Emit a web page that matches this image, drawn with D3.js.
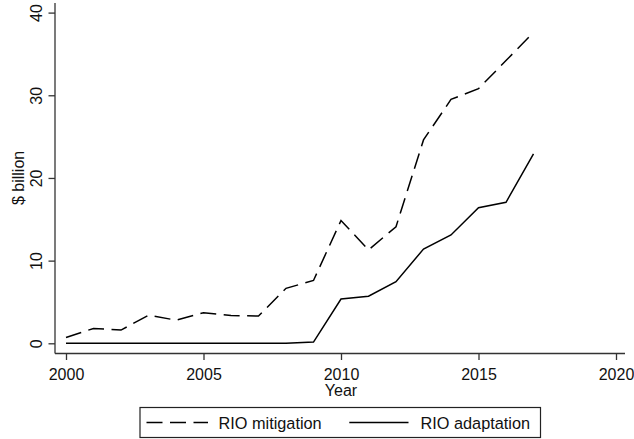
<!DOCTYPE html>
<html>
<head>
<meta charset="utf-8">
<script src="https://cdn.jsdelivr.net/npm/d3@7"></script>
<style>
  html, body { margin: 0; padding: 0; background: #fff; }
  svg { display: block; }
  text { font-family: "Liberation Sans", Arial, sans-serif; fill: #111; }
</style>
</head>
<body>
<script>
// Annual RIO climate finance, $ billion
const years = [2000, 2001, 2002, 2003, 2004, 2005, 2006, 2007, 2008,
               2009, 2010, 2011, 2012, 2013, 2014, 2015, 2016, 2017];
const mitigation = [0.7, 1.8, 1.6, 3.4, 2.8, 3.7, 3.35, 3.3, 6.65,
                    7.6, 14.85, 11.3, 14.1, 24.6, 29.5, 30.8, 34.2, 37.6];
const adaptation = [0, 0, 0, 0, 0, 0, 0, 0, 0,
                    0.15, 5.35, 5.7, 7.45, 11.4, 13.1, 16.4, 17.05, 22.9];
const xTicks = [2000, 2005, 2010, 2015, 2020];
const yTicks = [0, 10, 20, 30, 40];
const seriesNames = ["RIO mitigation", "RIO adaptation"];

const W = 634, H = 439;
const svg = d3.select("body").append("svg").attr("width", W).attr("height", H);

const x = d3.scaleLinear().domain([2000, 2020]).range([66, 616]);
const y = d3.scaleLinear().domain([0, 40]).range([343.3, 12.6]);

const axisColor = "#333";

// y axis
const yAxisX = 55;
const yAx = svg.append("g")
  .attr("transform", `translate(${yAxisX},0)`)
  .call(d3.axisLeft(y).tickValues(yTicks).tickSize(6.5).tickPadding(0).tickFormat(d3.format("d")));
yAx.select(".domain").attr("d", `M0,3V353.5`).attr("stroke", axisColor).attr("stroke-width", 1.3);
yAx.selectAll(".tick line").attr("stroke", axisColor).attr("stroke-width", 1.3);
yAx.selectAll(".tick text")
  .attr("x", 0).attr("dy", null).attr("y", 0)
  .attr("transform", "translate(-13.5,0) rotate(-90)")
  .attr("text-anchor", "middle")
  .style("font-size", "16px")
  .style("font-family", "'Liberation Sans', Arial, sans-serif")
  .attr("fill", "#111");

// x axis
const xAxisY = 353.5;
const xAx = svg.append("g")
  .attr("transform", `translate(0,${xAxisY})`)
  .call(d3.axisBottom(x).tickValues(xTicks).tickSize(6.5).tickPadding(0).tickFormat(d3.format("d")));
xAx.select(".domain").attr("d", `M55,0H625`).attr("stroke", axisColor).attr("stroke-width", 1.3);
xAx.selectAll(".tick line").attr("stroke", axisColor).attr("stroke-width", 1.3);
xAx.selectAll(".tick text")
  .attr("y", 26).attr("dy", null)
  .style("font-size", "16px")
  .style("font-family", "'Liberation Sans', Arial, sans-serif")
  .attr("fill", "#111");

// axis titles
svg.append("text")
  .attr("x", x(2010)).attr("y", 396)
  .attr("text-anchor", "middle")
  .style("font-size", "16px")
  .text("Year");
svg.append("text")
  .attr("transform", `translate(24,${y(20)}) rotate(-90)`)
  .attr("text-anchor", "middle")
  .style("font-size", "16px")
  .text("$ billion");

// series lines
const line = d3.line().x((d, i) => x(years[i])).y(d => y(d));
const dash = "16,7.5";

svg.append("path")
  .datum(mitigation)
  .attr("d", line)
  .attr("fill", "none")
  .attr("stroke", "#000")
  .attr("stroke-width", 1.5)
  .attr("stroke-dasharray", dash);

svg.append("path")
  .datum(adaptation)
  .attr("d", line)
  .attr("fill", "none")
  .attr("stroke", "#000")
  .attr("stroke-width", 1.5);

// legend
const lg = svg.append("g");
lg.append("rect")
  .attr("x", 140).attr("y", 407.5)
  .attr("width", 400.5).attr("height", 30)
  .attr("fill", "#fff")
  .attr("stroke", "#222")
  .attr("stroke-width", 1.2);

const legendItems = [
  { name: seriesNames[0], x1: 146.5, x2: 208, tx: 218.5, dash: dash },
  { name: seriesNames[1], x1: 349.3, x2: 408.5, tx: 420.5, dash: null }
];
legendItems.forEach(it => {
  lg.append("line")
    .attr("x1", it.x1).attr("x2", it.x2)
    .attr("y1", 422.5).attr("y2", 422.5)
    .attr("stroke", "#000")
    .attr("stroke-width", 1.5)
    .attr("stroke-dasharray", it.dash);
  lg.append("text")
    .attr("x", it.tx).attr("y", 428.5)
    .style("font-size", "16.3px")
    .text(it.name);
});
</script>
</body>
</html>
